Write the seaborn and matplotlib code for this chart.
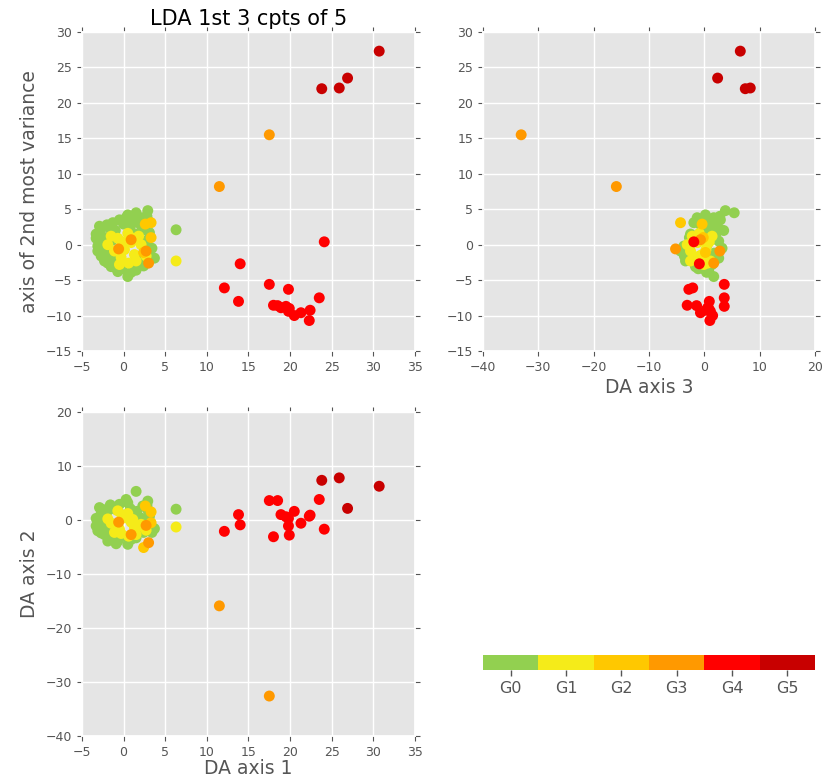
import numpy as np
import pandas as pd
import matplotlib
matplotlib.use("Agg")
import matplotlib.pyplot as plt
from matplotlib.colors import ListedColormap, BoundaryNorm
from matplotlib.cm import ScalarMappable
from matplotlib.ticker import NullLocator, FixedLocator
import seaborn as sns

group_names = ["G0", "G1", "G2", "G3", "G4", "G5"]
group_colors = ["#92D050", "#F5EB19", "#FFC800", "#FF9900", "#FF0000", "#C80000"]

# Discriminant scores per group: DA axis 1, axis of 2nd most variance, DA axis 3, DA axis 2
g0_da1 = [2.9, 1.5, 0.5, 2.3, -0.5, -1.3, -2.9, -2.0, 0.0, 1.2, -3.3, -3.3, -3.1, -3.1,
          -2.3, -1.5, -0.7, 0.5, 1.5, 2.4, 3.7, 3.4, 2.6, 2.2, -2.4, -1.8, -2.6, 1.0,
          -1.0, 0.8, -0.3, 1.6, -2.8, 3.1, -1.9, 2.0, 1.9, -1.4, 6.3, 3.1, -0.9, 0.3,
          -2.2, 0.9, -1.2, 2.8, -2.7, -1.6, 1.4, -0.2, 2.9]
g0_var2 = [4.8, 4.5, 4.2, 3.8, 3.5, 3.1, 2.6, 2.8, 2.9, 3.3, 1.5, 0.9, -0.2, -0.9,
           -2.3, -3.1, -3.8, -4.5, -3.6, -3.0, -1.9, -0.5, 0.5, 2.0, 1.0, -1.5, 0.0, -2.8,
           2.0, 2.5, -2.3, 1.5, 1.9, 1.7, -2.6, -1.9, 3.0, 0.6, 2.1, 3.2, -3.3, 3.8,
           -0.8, -3.9, -2.0, 4.0, -1.6, 2.2, -3.1, -3.4, -1.2]
g0_da3 = [3.8, 5.4, 0.2, 1.7, 2.9, -1.9, 1.0, -0.6, 2.0, 0.8, -2.5, -1.0, -3.7, -4.3,
          -3.4, -1.6, 0.8, 1.7, 0.3, -0.5, 2.6, 3.2, 2.6, 3.5, -2.7, -2.9, 0.5, 1.4,
          1.1, 2.4, -0.4, 1.5, 0.9, 2.2, -1.8, 0.1, -0.9, 0.6, 1.3, 1.9, -0.8, -1.3,
          -3.0, 0.4, -2.2, 2.8, -3.6, 0.0, 0.9, -1.1, 1.8]
g0_da2 = [3.5, 5.3, 3.2, 2.6, 2.9, 2.4, 2.3, 1.5, 0.9, 1.2, 0.3, -1.1, -0.4, -2.0,
          -2.7, -3.3, -3.9, -4.5, -3.3, -2.3, -1.6, -2.3, -1.0, 0.3, 1.9, -1.6, -0.9, 0.6,
          2.0, 2.1, -2.9, 1.6, 0.8, 0.7, -3.9, -1.4, -0.3, -2.0, 2.0, 1.1, -4.4, 3.8,
          -1.9, -3.6, -0.8, 2.7, -2.4, 2.8, -2.0, -3.0, 1.9]

g1_da1 = [-1.9, -0.7, 0.5, -0.5, 1.5, 2.1, 1.3, -1.1, 0.1, 6.3, 0.9, -0.2, 2.7, -1.5, 1.8, -0.3, 0.6, 1.1]
g1_var2 = [0.0, 0.9, 1.6, -2.8, -2.3, 0.0, -1.4, -0.9, -0.7, -2.3, 0.3, 0.4, -1.6, 1.2, 1.2, -1.8, -2.6, 0.9]
g1_da3 = [-3.1, -1.6, -0.9, -0.1, 1.1, 0.5, -0.4, -2.5, 0.3, -2.5, -1.2, 0.9, -0.9, -2.2, 1.4, -1.9, 0.6, -0.3]
g1_da2 = [0.2, 1.7, 1.2, -1.7, -2.7, -0.8, -1.4, -2.3, 0.4, -1.3, -0.4, 0.9, -1.9, -0.6, -1.2, -2.5, -3.0, 0.1]

g2_da1 = [3.3, 3.3, 2.6, 2.4]
g2_var2 = [3.1, 1.0, 2.9, -1.1]
g2_da3 = [-4.3, -0.2, -0.4, 0.2]
g2_da2 = [1.5, -0.5, 2.6, -5.1]

g3_da1 = [2.7, 3.0, 0.9, -0.6, 11.5, 17.5]
g3_var2 = [-0.9, -2.6, 0.7, -0.6, 8.2, 15.5]
g3_da3 = [2.8, 1.7, -0.7, -5.2, -15.9, -33.1]
g3_da2 = [-1.0, -4.2, -2.7, -0.4, -15.9, -32.6]

g4_da1 = [24.1, 14.0, 12.1, 13.8, 17.5, 19.8, 23.5, 18.0, 18.5, 18.9, 19.5, 19.8, 20.5, 21.3, 22.4, 22.3, 19.9]
g4_var2 = [0.4, -2.7, -6.1, -8.0, -5.6, -6.3, -7.5, -8.55, -8.6, -8.9, -8.7, -9.4, -10.0, -9.6, -9.25, -10.7, -9.0]
g4_da3 = [-1.9, -0.9, -2.1, 0.9, 3.6, -2.8, 3.6, -3.1, -1.4, 0.6, 3.6, 1.1, 1.5, -0.7, 0.3, 1.0, 0.8]
g4_da2 = [-1.7, -0.9, -2.1, 1.0, 3.6, -1.1, 3.8, -3.1, 3.6, 1.0, 0.6, 0.3, 1.6, -0.6, 0.9, 0.7, -2.8]

g5_da1 = [30.7, 26.9, 25.9, 23.8]
g5_var2 = [27.3, 23.5, 22.1, 22.0]
g5_da3 = [6.5, 2.4, 8.3, 7.4]
g5_da2 = [6.25, 2.15, 7.8, 7.35]

groups = [
    (g0_da1, g0_var2, g0_da3, g0_da2),
    (g1_da1, g1_var2, g1_da3, g1_da2),
    (g2_da1, g2_var2, g2_da3, g2_da2),
    (g3_da1, g3_var2, g3_da3, g3_da2),
    (g4_da1, g4_var2, g4_da3, g4_da2),
    (g5_da1, g5_var2, g5_da3, g5_da2),
]

frames = []
for k, (a1, v2, a3, a2) in enumerate(groups):
    frames.append(pd.DataFrame({"da1": a1, "var2": v2, "da3": a3, "da2": a2,
                                "group": group_names[k]}))
df = pd.concat(frames, ignore_index=True)
palette = dict(zip(group_names, group_colors))

sns.set_theme(style="darkgrid", rc={
    "axes.facecolor": "#E5E5E5",
    "axes.edgecolor": "white",
    "grid.color": "white",
    "grid.linewidth": 1.0,
    "xtick.color": "#555555",
    "ytick.color": "#555555",
    "axes.labelcolor": "#555555",
    "xtick.bottom": True, "xtick.top": True,
    "ytick.left": True, "ytick.right": True,
    "xtick.direction": "out", "ytick.direction": "out",
    "xtick.major.size": 3.5, "ytick.major.size": 3.5,
    "xtick.major.width": 0.8, "ytick.major.width": 0.8,
})
plt.rcParams["font.family"] = ["DejaVu Sans"]

W, H = 829, 779
fig = plt.figure(figsize=(W / 100, H / 100), dpi=100)
fig.patch.set_facecolor("white")


def box(l, r, t, b):
    return [l / W, 1 - b / H, (r - l) / W, (b - t) / H]


ax_tl = fig.add_axes(box(82, 415, 32, 351))
ax_tr = fig.add_axes(box(483, 815, 32, 351))
ax_bl = fig.add_axes(box(82, 415, 412, 736))
ax_cb = fig.add_axes(box(483, 815, 655, 670))

point_kw = dict(hue="group", palette=palette, hue_order=group_names,
                s=62, linewidth=0, legend=False)

sns.scatterplot(data=df, x="da1", y="var2", ax=ax_tl, **point_kw)
sns.scatterplot(data=df, x="da3", y="var2", ax=ax_tr, **point_kw)
sns.scatterplot(data=df, x="da1", y="da2", ax=ax_bl, **point_kw)

for ax in (ax_tl, ax_tr, ax_bl):
    ax.tick_params(labelsize=9, colors="#555555", length=3.5)
    ax.set_xlabel("")
    ax.set_ylabel("")

ax_tl.set_xlim(-5, 35)
ax_tl.set_ylim(-15, 30)
ax_tl.set_xticks(np.arange(-5, 36, 5))
ax_tl.set_yticks(np.arange(-15, 31, 5))
ax_tl.set_title("LDA 1st 3 cpts of 5", fontsize=15, color="black", pad=5)
ax_tl.set_ylabel("axis of 2nd most variance", fontsize=13.5, labelpad=5)

ax_tr.set_xlim(-40, 20)
ax_tr.set_ylim(-15, 30)
ax_tr.set_xticks(np.arange(-40, 21, 10))
ax_tr.set_yticks(np.arange(-15, 31, 5))
ax_tr.set_xlabel("DA axis 3", fontsize=13.5, labelpad=3)

ax_bl.set_xlim(-5, 35)
ax_bl.set_ylim(-40, 20)
ax_bl.set_xticks(np.arange(-5, 36, 5))
ax_bl.set_yticks(np.arange(-40, 21, 10))
ax_bl.set_xlabel("DA axis 1", fontsize=13.5, labelpad=0)
ax_bl.set_ylabel("DA axis 2", fontsize=13.5, labelpad=5)

# Discrete group colour bar
cmap = ListedColormap(group_colors)
norm = BoundaryNorm(np.arange(-0.5, len(group_names) + 0.5, 1), cmap.N)
cb = fig.colorbar(ScalarMappable(norm=norm, cmap=cmap), cax=ax_cb,
                  orientation="horizontal")
cb.outline.set_visible(False)
ax_cb.xaxis.set_major_locator(FixedLocator(np.arange(len(group_names))))
ax_cb.xaxis.set_minor_locator(NullLocator())
ax_cb.set_xticklabels(group_names)
ax_cb.tick_params(axis="x", which="both", top=False, labeltop=False,
                  bottom=True, labelbottom=True)
ax_cb.tick_params(axis="x", labelsize=11.5, colors="#555555", length=4,
                  width=1.0, direction="out", pad=4)
ax_cb.grid(False)

fig.savefig("out.png", dpi=100, facecolor="white")
